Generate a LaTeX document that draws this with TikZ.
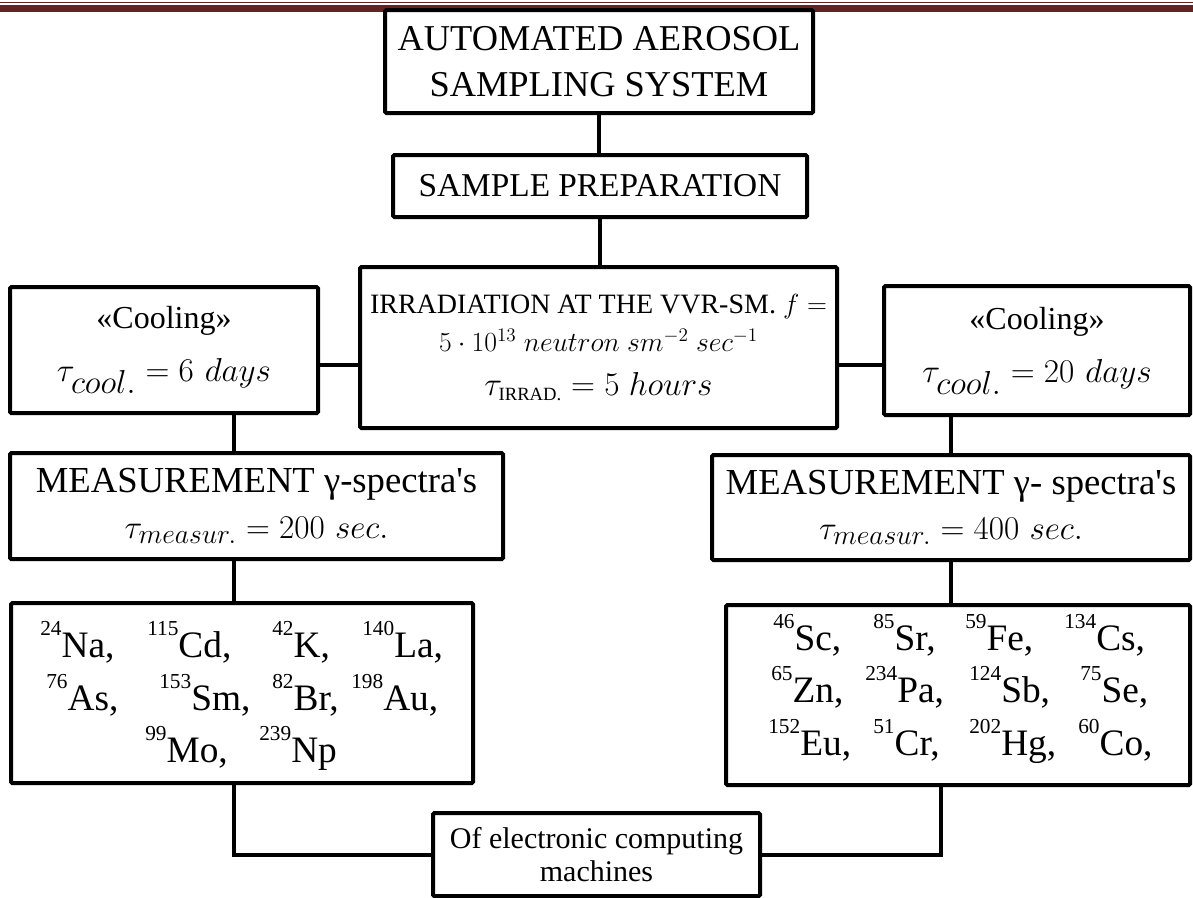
\documentclass[tikz,border=0pt]{standalone}
\usepackage{amsmath}
\usepackage{fontspec}
\setmainfont{Liberation Serif}
\usepackage{tikz}
\definecolor{headred}{HTML}{622423}
\newcommand{\iso}[2]{\raisebox{0.58em}{\fontsize{16}{16}\selectfont #1}#2}

\begin{document}
\begin{tikzpicture}[x=0.75pt,y=-0.75pt,
  box/.style={draw, line width=3pt, rounded corners=1pt, inner sep=0pt, align=center},
  link/.style={line width=3pt},
  isot/.style={anchor=base west, inner sep=0pt, font=\fontsize{28}{30}\selectfont}]
\useasboundingbox (0,0) rectangle (1193,897);
% page header rule
\fill[headred] (0,1.5) rectangle (1193,2.5);
\fill[headred] (0,5) rectangle (1193,12);

\node[box, minimum width=321pt, minimum height=77.25pt, font=\fontsize{27.3}{34}\selectfont] (auto) at (599,61.5) {AUTOMATED AEROSOL\\SAMPLING SYSTEM};
\node[box, minimum width=310.5pt, minimum height=46.5pt, font=\fontsize{25}{30}\selectfont] (prep) at (600,186) {SAMPLE PREPARATION};
\node[box, minimum width=357.75pt, minimum height=120.75pt, font=\fontsize{21}{28}\selectfont] (irr) at (598.5,347.5)
  {IRRADIATION AT THE VVR-SM. $f =$\\\fontsize{22}{28}\selectfont$5\cdot 10^{13}\ neutron\ sm^{-2}\ sec^{-1}$\\[5pt]\fontsize{28}{28}\selectfont$\tau_{\text{\fontsize{14}{14}\selectfont IRRAD.}} = 5\ hours$};
\node[box, minimum width=231pt, minimum height=94.5pt, font=\fontsize{24}{40}\selectfont] (coolL) at (164,350)
  {«Cooling»\\\fontsize{33}{40}\selectfont$\tau_{cool.} = 6\ days$};
\node[box, minimum width=229.5pt, minimum height=96.75pt, font=\fontsize{24}{40}\selectfont] (coolR) at (1037,350.5)
  {«Cooling»\\\fontsize{33}{40}\selectfont$\tau_{cool.} = 20\ days$};
\node[box, minimum width=369.75pt, minimum height=79.5pt, font=\fontsize{27.5}{34}\selectfont] (measL) at (256.5,506)
  {MEASUREMENT γ-spectra\textquotesingle s\\\fontsize{31}{34}\selectfont$\tau_{measur.} = 200\ sec.$};
\node[box, minimum width=358.5pt, minimum height=78.75pt, font=\fontsize{27.5}{34}\selectfont] (measR) at (951,507.5)
  {MEASUREMENT γ- spectra\textquotesingle s\\\fontsize{31}{34}\selectfont$\tau_{measur.} = 400\ sec.$};
\node[box, minimum width=346.5pt, minimum height=135pt] (listL) at (242,693) {};
\node[box, minimum width=348pt, minimum height=135pt] (listR) at (958,695) {};
\node[box, minimum width=245.25pt, minimum height=62.25pt, font=\fontsize{22.5}{25}\selectfont] (evm) at (596.5,854.5)
  {Of electronic computing\\machines};

% isotopes, short lived
\foreach \nm/\xx/\yy/\txt in {na/40/657/{\iso{24}{Na},}, cd/147/657/{\iso{115}{Cd},}, k/272/657/{\iso{42}{K},}, la/362/657/{\iso{140}{La},},
  as/46/710/{\iso{76}{As},}, sm/159/710/{\iso{153}{Sm},}, br/272/710/{\iso{82}{Br},}, au/351/710/{\iso{198}{Au},},
  mo/145/762/{\iso{99}{Mo},}, np/259/762/{\iso{239}{Np}}}
  \node[isot] (\nm) at (\xx,\yy) {\txt};
% isotopes, long lived
\foreach \nm/\xx/\yy/\txt in {sc/773/650/{\iso{46}{Sc},}, sr/873/650/{\iso{85}{Sr},}, fe/965/650/{\iso{59}{Fe},}, cs/1064/650/{\iso{134}{Cs},},
  zn/771/702/{\iso{65}{Zn},}, pa/865/702/{\iso{234}{Pa},}, sb/969/702/{\iso{124}{Sb},}, se/1080/702/{\iso{75}{Se},},
  eu/768/755/{\iso{152}{Eu},}, cr/873/755/{\iso{51}{Cr},}, hg/969/755/{\iso{202}{Hg},}, co/1078/755/{\iso{60}{Co},}}
  \node[isot] (\nm) at (\xx,\yy) {\txt};

\coordinate (lvl) at (0,365);
\coordinate (colL) at (234,0);
\coordinate (colR) at (941,0);
\draw[link] (auto.south) -- (auto.south |- prep.north);
\draw[link] (prep.south) -- (prep.south |- irr.north);
\draw[link] (coolL.east |- lvl) -- (irr.west |- lvl);
\draw[link] (irr.east |- lvl) -- (coolR.west |- lvl);
\draw[link] (coolL.south -| colL) -- (measL.north -| colL);
\draw[link] (measL.south -| colL) -- (listL.north -| colL);
\draw[link] (coolR.south -| measR.north) -- (measR.north);
\draw[link] (measR.south) -- (measR.south |- listR.north);
\draw[link] (listL.south -| colL) |- (evm.west);
\draw[link] (listR.south -| colR) |- (evm.east);
\end{tikzpicture}
\end{document}
